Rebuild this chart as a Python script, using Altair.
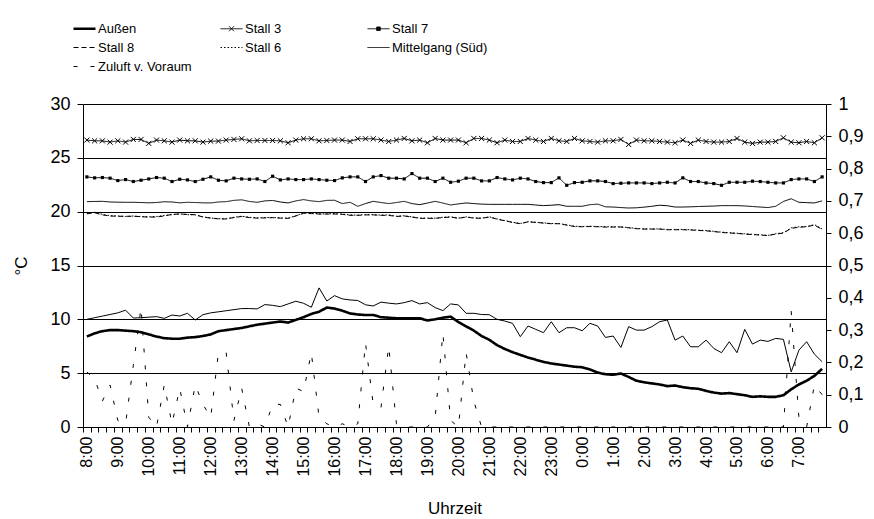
import altair as alt
import pandas as pd

# ---- categories: 15-minute readings from 8:00 to 7:45 of the next day ----
TIMES = [f"{(8 + k // 4) % 24}:{(k % 4) * 15:02d}" for k in range(96)]

AUSSEN = [8.4, 8.7, 8.9, 9.0, 9.0, 8.95, 8.9, 8.8, 8.6, 8.4,
          8.25, 8.2, 8.2, 8.3, 8.35, 8.45, 8.6, 8.9, 9.0, 9.1,
          9.2, 9.35, 9.5, 9.6, 9.7, 9.8, 9.7, 9.95, 10.2, 10.5,
          10.7, 11.1, 11.0, 10.8, 10.55, 10.45, 10.4, 10.4, 10.2, 10.15,
          10.1, 10.1, 10.1, 10.1, 9.9, 10.0, 10.15, 10.25, 9.75, 9.35,
          8.95, 8.45, 8.1, 7.6, 7.25, 6.95, 6.7, 6.45, 6.25, 6.05,
          5.9, 5.8, 5.7, 5.6, 5.55, 5.35, 5.05, 4.9, 4.85, 4.97,
          4.65, 4.3, 4.15, 4.05, 3.95, 3.8, 3.85, 3.7, 3.6, 3.55,
          3.35, 3.2, 3.1, 3.15, 3.05, 2.95, 2.8, 2.85, 2.8, 2.8,
          2.95, 3.5, 3.95, 4.3, 4.75, 5.4]

STALL3 = [26.65, 26.58, 26.58, 26.46, 26.58, 26.46, 26.71, 26.71, 26.34, 26.65,
          26.58, 26.46, 26.65, 26.58, 26.58, 26.46, 26.55, 26.55, 26.65, 26.71,
          26.77, 26.58, 26.61, 26.61, 26.61, 26.58, 26.4, 26.65, 26.77, 26.77,
          26.58, 26.61, 26.65, 26.65, 26.52, 26.77, 26.77, 26.77, 26.65, 26.52,
          26.65, 26.8, 26.58, 26.65, 26.4, 26.8, 26.65, 26.65, 26.65, 26.4,
          26.8, 26.8, 26.65, 26.4, 26.65, 26.52, 26.52, 26.8, 26.65, 26.52,
          26.8, 26.58, 26.52, 26.8, 26.58, 26.52, 26.46, 26.58, 26.58, 26.71,
          26.24, 26.65, 26.58, 26.58, 26.52, 26.46, 26.4, 26.65, 26.34, 26.65,
          26.52, 26.46, 26.46, 26.52, 26.8, 26.46, 26.34, 26.46, 26.46, 26.52,
          26.86, 26.46, 26.4, 26.52, 26.4, 26.86]

STALL7 = [23.23, 23.14, 23.17, 23.11, 22.89, 22.98, 22.8, 22.92, 23.04, 23.17,
          23.11, 22.8, 23.01, 22.95, 22.8, 23.01, 23.23, 22.92, 22.86, 23.11,
          23.04, 23.01, 23.04, 22.8, 23.29, 22.95, 23.04, 22.98, 22.98, 23.04,
          22.98, 22.92, 22.89, 23.14, 23.23, 23.23, 22.8, 23.23, 23.35, 23.11,
          23.11, 23.04, 23.54, 23.11, 23.11, 22.8, 23.11, 22.73, 22.83, 23.11,
          23.11, 22.86, 22.86, 23.17, 23.04, 22.95, 23.11, 23.04, 22.8, 22.7,
          22.7, 23.14, 22.45, 22.7, 22.73, 22.86, 22.86, 22.8, 22.61, 22.64,
          22.67, 22.67, 22.67, 22.61, 22.67, 22.73, 22.67, 23.14, 22.8, 22.8,
          22.67, 22.61, 22.45, 22.73, 22.73, 22.73, 22.83, 22.8, 22.73, 22.67,
          22.67, 22.98, 23.04, 23.04, 22.8, 23.23]

STALL8 = [19.8, 19.9, 19.7, 19.6, 19.57, 19.57, 19.57, 19.53, 19.5, 19.5,
          19.6, 19.75, 19.78, 19.75, 19.72, 19.5, 19.4, 19.33, 19.32, 19.45,
          19.55, 19.45, 19.4, 19.42, 19.44, 19.4, 19.38, 19.6, 19.85, 19.82,
          19.78, 19.78, 19.78, 19.75, 19.66, 19.66, 19.7, 19.7, 19.66, 19.66,
          19.55, 19.6, 19.5, 19.38, 19.38, 19.38, 19.45, 19.5, 19.38, 19.5,
          19.4, 19.38, 19.5, 19.3, 19.15, 19.0, 18.88, 19.05, 19.0, 18.94,
          18.88, 18.88, 18.75, 18.62, 18.6, 18.62, 18.6, 18.57, 18.57, 18.57,
          18.5, 18.42, 18.38, 18.38, 18.38, 18.32, 18.32, 18.32, 18.3, 18.26,
          18.22, 18.15, 18.07, 18.02, 17.98, 17.92, 17.87, 17.83, 17.78, 17.92,
          18.01, 18.45, 18.55, 18.6, 18.75, 18.35]

STALL6 = [19.85, 19.95, 19.75, 19.62, 19.6, 19.55, 19.6, 19.55, 19.52, 19.55,
          19.65, 19.72, 19.8, 19.72, 19.7, 19.52, 19.42, 19.35, 19.35, 19.48,
          19.58, 19.48, 19.42, 19.45, 19.46, 19.42, 19.4, 19.62, 19.88, 19.85,
          19.8, 19.8, 19.82, 19.78, 19.7, 19.68, 19.72, 19.72, 19.68, 19.7,
          19.58, 19.62, 19.52, 19.4, 19.4, 19.4, 19.48, 19.52, 19.4, 19.52,
          19.42, 19.4, 19.52, 19.32, 19.18, 19.02, 18.9, 19.08, 19.02, 18.96,
          18.9, 18.9, 18.78, 18.65, 18.62, 18.65, 18.62, 18.6, 18.6, 18.6,
          18.52, 18.45, 18.4, 18.4, 18.4, 18.35, 18.35, 18.35, 18.32, 18.28,
          18.25, 18.18, 18.1, 18.05, 18.0, 17.95, 17.9, 17.85, 17.8, 17.95,
          18.05, 18.5, 18.6, 18.62, 18.8, 18.4]

MITTELGANG = [20.93, 20.95, 20.96, 20.9, 20.88, 20.87, 20.87, 20.85, 20.82, 20.85,
              20.92, 20.9, 20.82, 20.87, 20.85, 20.82, 20.81, 20.9, 20.93, 21.05,
              21.1, 20.95, 20.87, 21.0, 21.04, 20.9, 20.81, 21.0, 21.12, 21.0,
              20.93, 21.05, 21.06, 20.75, 20.87, 20.5, 20.75, 20.96, 20.85, 20.75,
              20.85, 20.96, 20.75, 20.65, 20.8, 20.96, 20.8, 20.62, 20.72, 20.81,
              20.75, 20.7, 20.68, 20.68, 20.68, 20.68, 20.68, 20.68, 20.62, 20.56,
              20.6, 20.65, 20.5, 20.5, 20.5, 20.65, 20.7, 20.45, 20.43, 20.38,
              20.34, 20.36, 20.42, 20.5, 20.6, 20.55, 20.43, 20.43, 20.45, 20.48,
              20.5, 20.52, 20.56, 20.56, 20.56, 20.53, 20.48, 20.43, 20.38, 20.5,
              20.95, 21.2, 20.87, 20.84, 20.81, 21.0]

# thin jagged line without legend entry
UNTEN = [10.0, 10.15, 10.3, 10.45, 10.6, 10.85, 10.12, 10.15, 10.2, 10.25,
         10.09, 10.4, 10.31, 10.56, 9.94, 10.43, 10.6, 10.7, 10.8, 10.9,
         11.0, 11.0, 10.97, 11.37, 11.3, 11.18, 11.43, 11.68, 11.49, 11.12,
         12.92, 11.7, 12.2, 11.9, 11.8, 11.75, 11.35, 11.24, 11.6, 11.5,
         11.43, 11.55, 11.74, 11.43, 11.55, 11.09, 10.81, 11.43, 11.34, 10.56,
         10.56, 10.45, 10.43, 10.0, 9.84, 9.63, 8.39, 9.38, 9.07, 8.76,
         9.78, 8.76, 9.22, 9.22, 8.94, 9.63, 9.38, 8.32, 8.45, 7.39,
         9.32, 9.0, 9.0, 9.32, 9.78, 9.94, 8.07, 8.45, 7.45, 7.45,
         8.07, 7.3, 6.9, 7.92, 6.9, 9.07, 7.7, 8.07, 7.95, 8.23,
         8.14, 5.12, 7.14, 7.92, 6.77, 6.06]

# secondary axis (0 - 1)
ZULUFT = [0.17, 0.15, 0.08, 0.13, 0.02, 0.01, 0.19, 0.37, 0.03, 0.0,
          0.13, 0.01, 0.12, 0.0, 0.13, 0.07, 0.03, 0.23, 0.23, 0.02,
          0.12, 0.0, 0.01, 0.0, 0.07, 0.07, 0.0, 0.12, 0.11, 0.23,
          0.03, 0.01, 0.0, 0.01, 0.0, 0.01, 0.26, 0.07, 0.06, 0.25,
          0.01, 0.0, 0.0, 0.0, 0.0, 0.03, 0.29, 0.02, 0.0, 0.23,
          0.08, 0.0] + [0.0] * 38 + [0.0, 0.36, 0.03, 0.0, 0.13, 0.10]

NAMES = ["Außen", "Stall 3", "Stall 7", "Stall 8", "Stall 6",
         "Mittelgang (Süd)", "Zuluft v. Voraum"]
DASHES = [[1, 0], [1, 0], [1, 0], [5, 3], [1.5, 2], [1, 0], [4, 13]]

LEFT_TICKS = [0, 5, 10, 15, 20, 25, 30]
RIGHT_TICKS = [round(k * 0.1, 1) for k in range(11)]

FONT = "Liberation Sans"

thin_series = {"Stall 3": STALL3, "Stall 7": STALL7, "Stall 8": STALL8,
               "Stall 6": STALL6, "Mittelgang (Süd)": MITTELGANG}
rows = []
for name, vals in thin_series.items():
    for t, v in zip(TIMES, vals):
        rows.append({"t": t, "v": v, "s": name})
df_thin = pd.DataFrame(rows)
df_aussen = pd.DataFrame({"t": TIMES, "v": AUSSEN, "s": "Außen"})
df_unten = pd.DataFrame({"t": TIMES, "v": UNTEN})
df_zu = pd.DataFrame({"t": TIMES, "v": ZULUFT, "s": "Zuluft v. Voraum"})

step = 743 / 96

x_enc = alt.X(
    "t:N", sort=TIMES, title="Uhrzeit",
    scale=alt.Scale(padding=0.5),
    axis=alt.Axis(
        labelExpr="indexof(datum.value, ':00') > 0 ? datum.value : ''",
        labelAngle=270, labelAlign="right", labelBaseline="middle",
        labelOverlap=False, labelFontSize=16, labelPadding=4,
        tickOffset=-step / 2, labelOffset=step / 2, tickSize=5,
        titleFontSize=17, titleFontWeight="normal", titlePadding=24,
        domainColor="black", tickColor="black", labelColor="black",
        titleColor="black", labelFont=FONT, titleFont=FONT, grid=False,
    ),
)

y_left = alt.Y(
    "v:Q", scale=alt.Scale(domain=[0, 30], nice=False),
    axis=alt.Axis(
        values=LEFT_TICKS, grid=True, gridColor="black", gridWidth=1,
        title="°C", titleFontSize=17, titleFontWeight="normal",
        titleColor="black", titleFont=FONT, titlePadding=19,
        labelFontSize=18, labelColor="black", labelFont=FONT,
        tickSize=6, tickColor="black", domainColor="black", labelPadding=7,
    ),
)

LINE_PATH = "M-1,0H1"
CROSS_PATH = "M-1,0H1M-0.23,-0.23L0.23,0.23M-0.23,0.23L0.23,-0.23"
SQUARE_PATH = "M-1,0H1M-0.16,-0.16H0.16V0.16H-0.16Z"

legend = alt.Legend(
    title=None, orient="none", direction="horizontal", legendX=-10, legendY=-87,
    columns=3,
    symbolType={"expr": "(datum.value === 'Stall 3' ? '" + CROSS_PATH + "' : "
                        "(datum.value === 'Stall 7' ? '" + SQUARE_PATH + "' : '" + LINE_PATH + "'))"},
    symbolStrokeWidth={"expr": "(datum.value === 'Außen' ? 2.6 : 1)"},
    symbolFillColor={"expr": "(datum.value === 'Stall 7' ? 'black' : 'transparent')"},
    symbolSize=484, symbolStrokeColor="black",
    labelFont=FONT, labelFontSize=13, labelColor="black",
    labelOffset=2, gridAlign="all", columnPadding=24, rowPadding=-1,
    labelLimit=200,
)

dash_enc = alt.StrokeDash("s:N", scale=alt.Scale(domain=NAMES, range=DASHES), legend=legend)

aussen = alt.Chart(df_aussen).mark_line(color="black", strokeWidth=2.6).encode(
    x=x_enc, y=y_left, strokeDash=dash_enc)

lines = alt.Chart(df_thin).mark_line(color="black", strokeWidth=1).encode(
    x=x_enc, y=y_left, strokeDash=dash_enc, detail="s:N")

cross = alt.Chart(df_thin).transform_filter(alt.datum.s == "Stall 3").mark_point(
    shape="M-1,-1L1,1M-1,1L1,-1", size=26, stroke="black", strokeWidth=1, opacity=1,
).encode(x=x_enc, y=y_left)

square = alt.Chart(df_thin).transform_filter(alt.datum.s == "Stall 7").mark_point(
    shape="square", size=10, filled=True, color="black", opacity=1,
).encode(x=x_enc, y=y_left)

unten = alt.Chart(df_unten).mark_line(color="black", strokeWidth=1).encode(x=x_enc, y=y_left)

left_layer = alt.layer(lines, unten, aussen, cross, square)

zu = alt.Chart(df_zu).mark_line(color="black", strokeWidth=1).encode(
    x=x_enc,
    y=alt.Y("v:Q", scale=alt.Scale(domain=[0, 1], nice=False),
            axis=alt.Axis(orient="right", values=RIGHT_TICKS, grid=False, title=None,
                          labelExpr="replace(format(datum.value, '.1~f'), '.', ',')",
                          labelFontSize=18, labelColor="black", labelFont=FONT,
                          tickSize=5, tickColor="black", domainColor="black",
                          labelPadding=7)),
    strokeDash=dash_enc,
)

chart = alt.layer(left_layer, zu).resolve_scale(y="independent").properties(
    width=743, height=323,
    autosize=alt.AutoSizeParams(type="none"),
    padding={"left": 75, "top": 96, "right": 40, "bottom": 92},
).configure_view(stroke="black", strokeWidth=1).configure(background="white")

chart.save("out.html", embed_options={"renderer": "svg", "actions": False})
